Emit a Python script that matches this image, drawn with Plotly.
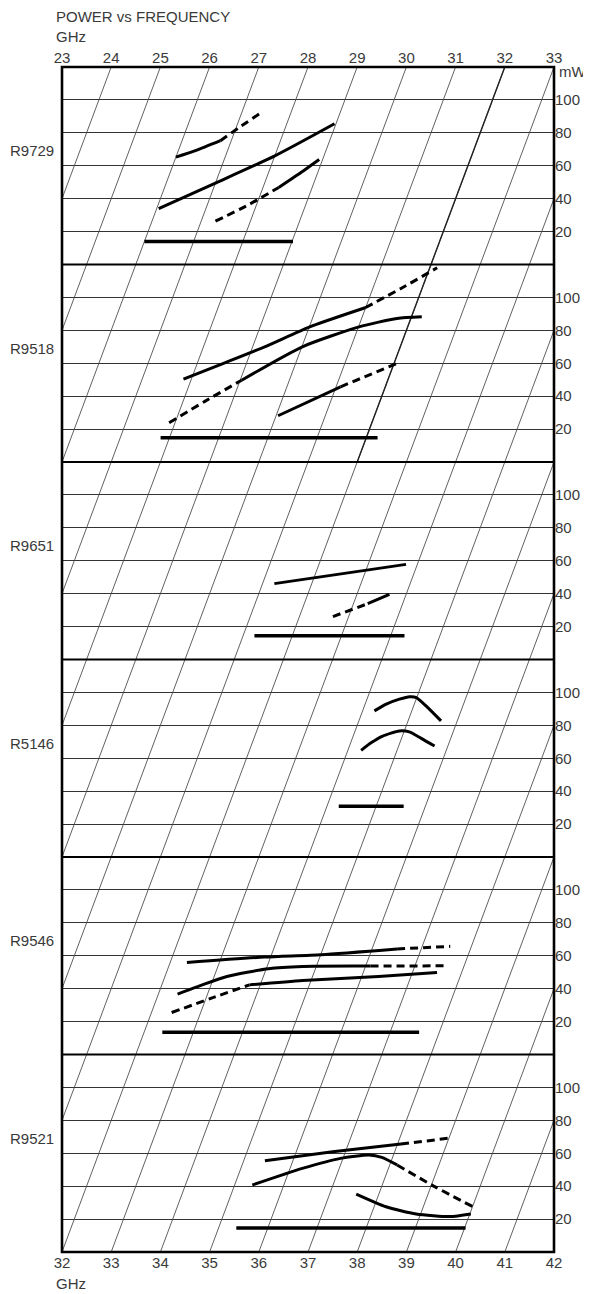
import plotly.graph_objects as go

# ---------------- data ----------------
PANEL_NAMES = ["R9729", "R9518", "R9651", "R5146", "R9546", "R9521"]
TOP_GHZ_TICKS = list(range(23, 34))
BOTTOM_GHZ_TICKS = list(range(32, 43))
POWER_TICKS = [20, 40, 60, 80, 100]
GRID_FREQS = list(range(24, 42))
PANEL_SPAN_MW = 120          # each panel spans 0..120 mW
PANEL_FREQ_SHIFT = 1.5       # GHz shift of the frequency grid per panel

# curves: (style, frequencies GHz, power mW)
R9729_CURVES = [
    ("solid", [26.00, 26.36, 26.78], [65.2, 69.3, 75.2]),
    ("dash", [26.78, 27.05, 27.37], [75.2, 83.0, 91.6]),
    ("solid", [26.04, 27.00, 28.00, 28.97], [34.0, 49.5, 66.0, 85.5]),
    ("dash", [27.29, 27.80, 28.32], [26.3, 35.5, 46.8]),
    ("solid", [28.32, 28.62, 28.93], [46.8, 54.8, 63.8]),
    ("band", [26.00, 29.02], [14.0, 14.0]),
]
R9518_CURVES = [
    ("solid", [27.84, 28.50, 29.245, 30.01, 30.99], [50.3, 59.5, 70.0, 82.1, 93.7]),
    ("dash", [30.99, 31.60, 32.15], [93.7, 106.0, 118.0]),
    ("dash", [27.88, 28.45, 29.03], [23.8, 37.0, 49.7]),
    ("solid", [29.03, 30.01, 31.01, 31.72, 32.21], [49.7, 70.0, 82.1, 87.2, 88.2]),
    ("solid", [30.04, 31.09], [28.1, 45.7]),
    ("dash", [31.09, 32.10], [45.7, 60.5]),
    ("band", [27.82, 32.23], [14.7, 14.7]),
]
R9651_CURVES = [
    ("solid", [31.24, 33.77], [46.1, 57.8]),
    ("dash", [32.68, 33.29], [26.1, 33.9]),
    ("solid", [33.29, 33.66], [33.9, 39.6]),
    ("band", [31.23, 34.28], [14.5, 14.5]),
]
R5146_CURVES = [
    ("solid", [34.24, 34.43, 34.66, 34.85, 34.99, 35.30, 35.67], [88.8, 92.9, 95.9, 97.4, 96.9, 90.8, 82.7]),
    ("solid", [34.27, 34.42, 34.60, 34.90, 35.11, 35.40, 35.73], [64.8, 69.5, 73.5, 76.6, 76.0, 72.1, 67.4]),
    ("band", [34.24, 35.56], [30.8, 30.8]),
]
R9546_CURVES = [
    ("solid", [32.34, 33.88, 35.01, 36.51], [55.9, 59.2, 60.6, 64.1]),
    ("dash", [36.51, 37.57], [64.1, 65.7]),
    ("solid", [32.39, 32.80, 33.26, 34.04, 34.72, 36.10], [36.7, 42.0, 47.4, 52.1, 53.5, 53.7]),
    ("dash", [36.10, 37.68], [53.7, 53.9]),
    ("dash", [32.41, 33.11, 33.78], [25.5, 34.2, 42.3]),
    ("solid", [33.78, 34.83, 36.34, 37.50], [42.3, 45.0, 47.4, 49.8]),
    ("band", [32.37, 37.59], [13.5, 13.5]),
]
R9521_CURVES = [
    ("solid", [35.43, 36.74, 38.07], [55.5, 60.9, 65.6]),
    ("dash", [38.07, 38.99], [65.6, 69.1]),
    ("solid", [35.36, 36.25, 36.95, 37.50, 37.78, 38.15], [40.7, 50.8, 56.9, 58.9, 57.5, 52.9]),
    ("dash", [38.15, 39.08, 40.01], [52.9, 39.7, 27.5]),
    ("solid", [37.54, 38.24, 38.91, 39.62, 40.02], [35.2, 27.5, 23.1, 21.5, 23.1]),
    ("band", [35.36, 40.02], [14.6, 14.6]),
]
ALL_CURVES = [R9729_CURVES, R9518_CURVES, R9651_CURVES,
              R5146_CURVES, R9546_CURVES, R9521_CURVES]

# ---------------- geometry helpers ----------------
N = len(PANEL_NAMES)
TOTAL = N * PANEL_SPAN_MW
SHEAR = PANEL_FREQ_SHIFT / PANEL_SPAN_MW   # GHz per mW of vertical position


def panel_y(k, p):
    return (N - 1 - k) * PANEL_SPAN_MW + p


def to_x(f, y):
    # position on the bottom (32-42 GHz) scale of a point of frequency f at height y
    return f + y * SHEAR


FONT = dict(family="Liberation Sans, Arial, sans-serif", size=15, color="#3a3a3a")

fig = go.Figure()

# slanted constant-frequency grid lines
gx, gy = [], []
for f in GRID_FREQS:
    gx += [to_x(f, 0), to_x(f, TOTAL), None]
    gy += [0, TOTAL, None]
fig.add_trace(go.Scatter(x=gx, y=gy, mode="lines", line=dict(color="#444444", width=0.85),
                         hoverinfo="skip", showlegend=False))
# the 32 GHz line prints darker in the upper two panels
y_lo = (N - 2) * PANEL_SPAN_MW
fig.add_trace(go.Scatter(x=[to_x(32, y_lo), to_x(32, TOTAL)], y=[y_lo, TOTAL], mode="lines",
                         line=dict(color="#222222", width=1.4), hoverinfo="skip", showlegend=False))

# curves
for k, curves in enumerate(ALL_CURVES):
    for style, fs, ps in curves:
        ys = [panel_y(k, p) for p in ps]
        xs = [to_x(f, y) for f, y in zip(fs, ys)]
        if style == "dash":
            line = dict(color="black", width=3, dash="8px,5px", shape="spline", smoothing=0.6)
        elif style == "band":
            line = dict(color="black", width=3.5)
        else:
            line = dict(color="black", width=3, shape="spline", smoothing=0.6)
        fig.add_trace(go.Scatter(x=xs, y=ys, mode="lines", line=line,
                                 hoverinfo="skip", showlegend=False))

# invisible trace for the top axis
fig.add_trace(go.Scatter(x=[TOP_GHZ_TICKS[0], TOP_GHZ_TICKS[-1]], y=[0, 0], xaxis="x2",
                         mode="markers", marker=dict(opacity=0), hoverinfo="skip", showlegend=False))

# power ticks on the right
yvals, ytext = [], []
for k in range(N):
    for p in POWER_TICKS:
        yvals.append(panel_y(k, p))
        ytext.append(str(p))

shapes = [dict(type="rect", xref="paper", yref="paper", x0=0, x1=1, y0=0, y1=1,
               line=dict(color="black", width=2.6))]
for j in range(1, N):
    shapes.append(dict(type="line", xref="paper", yref="y", x0=0, x1=1,
                       y0=j * PANEL_SPAN_MW, y1=j * PANEL_SPAN_MW,
                       line=dict(color="black", width=2)))

annotations = []
for k, name in enumerate(PANEL_NAMES):
    annotations.append(dict(text=name, xref="paper", yref="y", x=-0.012, y=panel_y(k, 69),
                            xanchor="right", yanchor="middle", showarrow=False, font=FONT))
annotations += [
    dict(text="mW", xref="paper", yref="y", x=1.006, y=TOTAL - 2.5, xanchor="left",
         yanchor="middle", showarrow=False, font=FONT),
    dict(text="POWER vs FREQUENCY", xref="paper", yref="paper", x=-0.017, y=1.0425,
         xanchor="left", yanchor="middle", showarrow=False, font=FONT),
    dict(text="GHz", xref="paper", yref="paper", x=-0.017, y=1.026,
         xanchor="left", yanchor="middle", showarrow=False, font=FONT),
    dict(text="GHz", xref="paper", yref="paper", x=-0.017, y=-0.0265,
         xanchor="left", yanchor="middle", showarrow=False, font=FONT),
]

# page body has an 8px margin: size the figure so the frame lands where the reference has it
fig.update_layout(
    width=583, height=1286,
    margin=dict(l=54, r=37, t=59, b=42),
    paper_bgcolor="white", plot_bgcolor="white",
    showlegend=False,
    font=FONT,
    shapes=shapes,
    annotations=annotations,
    xaxis=dict(range=[BOTTOM_GHZ_TICKS[0], BOTTOM_GHZ_TICKS[-1]], tickvals=BOTTOM_GHZ_TICKS,
               showgrid=False, zeroline=False, showline=False, ticks="", tickfont=FONT,
               fixedrange=True),
    xaxis2=dict(range=[TOP_GHZ_TICKS[0], TOP_GHZ_TICKS[-1]], tickvals=TOP_GHZ_TICKS,
                overlaying="x", side="top", anchor="y",
                showgrid=False, zeroline=False, showline=False, ticks="", tickfont=FONT,
                fixedrange=True),
    yaxis=dict(range=[0, TOTAL], tickvals=yvals, ticktext=ytext, side="right",
               showgrid=True, gridcolor="#333333", gridwidth=1, zeroline=False,
               showline=False, ticks="", tickfont=FONT, fixedrange=True),
)

fig.write_html("out.html")
